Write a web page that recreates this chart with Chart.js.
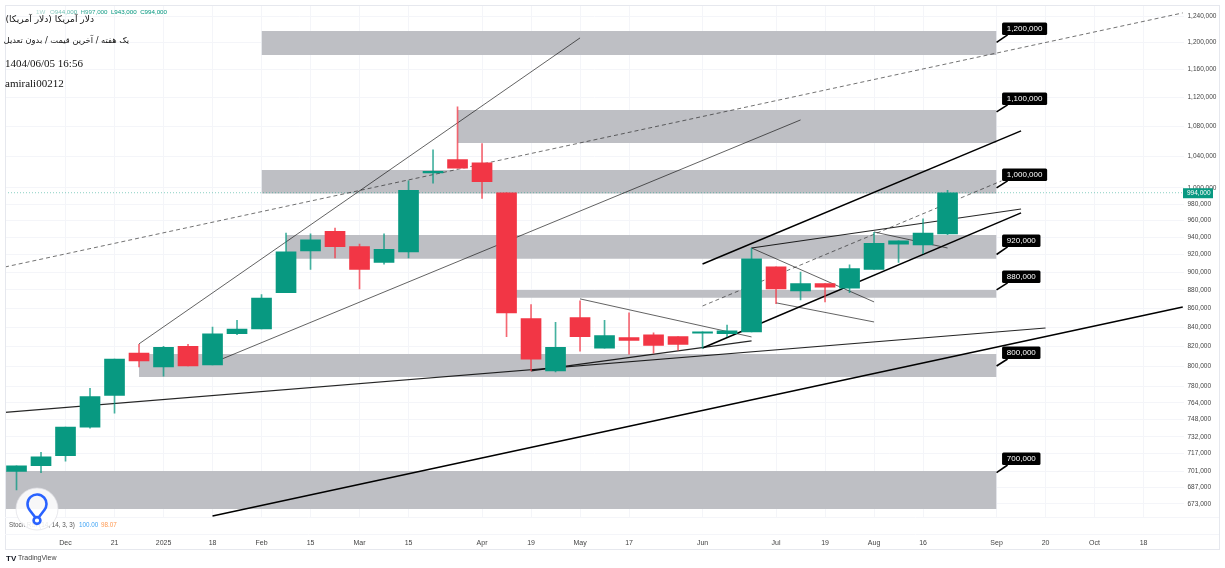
<!DOCTYPE html>
<html>
<head>
<meta charset="utf-8">
<style>
  html, body { margin: 0; padding: 0; background: #fff; overflow: hidden; }
  canvas { display: block; }
</style>
<script src="https://cdn.jsdelivr.net/npm/chart.js@4"></script>
</head>
<body>
<canvas id="chart" width="1225" height="568"></canvas>
<script>
// weekly candles, x = week number, prices
const opens  = [701000, 706000, 715000, 741000, 771000, 813000, 799000, 820000, 801000, 833000, 838000, 877000, 924000, 947000, 929000, 911000, 923000, 1019000, 1036000, 1032000, 994000, 849000, 795000, 850000, 818000, 829000, 832000, 830000, 833500, 833000, 835000, 906000, 879000, 887000, 882000, 903000, 932000, 931000, 944000];
const highs  = [706000, 718000, 741000, 778000, 807000, 822000, 820000, 822000, 840000, 847000, 875000, 945000, 944000, 951000, 932000, 944000, 1009000, 1049000, 1107000, 1057000, 994000, 864000, 845000, 868000, 847000, 855000, 834000, 830000, 835000, 842000, 927000, 906000, 900000, 887000, 908000, 946000, 936000, 962000, 997000];
const lows   = [685000, 700000, 710000, 740000, 754000, 799000, 790000, 800000, 801000, 832000, 838000, 877000, 903000, 916000, 881000, 909000, 916000, 1006000, 1025000, 987000, 830000, 795000, 794000, 815000, 818000, 812000, 813000, 816000, 818000, 830000, 835000, 865000, 869000, 867000, 877000, 903000, 911000, 921000, 943000];
const closes = [706000, 714000, 741000, 770000, 807000, 805000, 819000, 800000, 833000, 838000, 871000, 923000, 937000, 929000, 903000, 926000, 997000, 1021000, 1025000, 1008000, 855000, 807000, 819000, 830000, 831000, 826000, 821000, 822000, 835000, 836000, 915000, 881000, 887000, 883000, 904000, 933000, 936000, 945000, 994000];
const lastPrice = 994000;

const priceTicks = [1240000, 1200000, 1160000, 1120000, 1080000, 1040000, 1000000, 980000, 960000, 940000, 920000, 900000, 880000, 860000, 840000, 820000, 800000, 780000, 764000, 748000, 732000, 717000, 701000, 687000, 673000];
const weekTicks  = [2, 4, 6, 8, 10, 12, 14, 16, 19, 21, 23, 25, 28, 31, 33, 35, 37, 40, 42, 44, 46];
const weekLabels = ['Dec', '21', '2025', '18', 'Feb', '15', 'Mar', '15', 'Apr', '19', 'May', '17', 'Jun', 'Jul', '19', 'Aug', '16', 'Sep', '20', 'Oct', '18'];

// grey support / resistance boxes
const zoneStart  = [10, 18, 10, 11, 20, 5, -0.47];
const zoneEnd    = [40, 40, 40, 40, 40, 40, 40];
const zoneTop    = [1217400, 1102700, 1022800, 942800, 880000, 812200, 701400];
const zoneBottom = [1181400, 1058000, 993100, 915000, 871300, 789100, 668800];

// trend lines: [week, price, week, price]
const thinLines = [
  [5, 822500, 23, 1206800],
  [8, 803100, 32, 1088900],
  [23, 870200, 30, 829700],
  [30, 927500, 35, 866900],
  [31, 865900, 35, 845400],
  [35, 946300, 38, 927500]
];
const mediumLines = [
  [-0.47, 754800, 42, 839100],
  [30, 927500, 41, 973900],
  [21, 795100, 30, 825600]
];
const thickLines = [
  [28, 909100, 41, 1074100],
  [28, 818300, 41, 969200],
  [8, 663000, 47.6, 861500]
];
const dashedLines = [
  [-0.47, 905700, 47.6, 1245200],
  [28, 862500, 40.2, 1008800]
];

// black price callouts
const calloutLabels = ['1,200,000', '1,100,000', '1,000,000', '920,000', '880,000', '800,000', '700,000'];
const calloutFrom   = [1200000, 1100000, 1000000, 920000, 880000, 800000, 700000];
const calloutTip    = [1211300, 1109600, 1008800, 928700, 887800, 807100, 706700];
const calloutWeek = 40;
const calloutTipWeek = 40.45;

const GREEN = '#089981';
const RED = '#f23645';
const GRID = '#f4f5f9';
const xMin = -0.47;
const xMax = 47.63;

const datasets = [];

function lineDs(pts, color, width, dash, order) {
  return {
    type: 'line',
    data: pts,
    borderColor: color,
    borderWidth: width,
    borderDash: dash || [],
    pointRadius: 0,
    tension: 0,
    fill: false,
    order: order
  };
}

// boxes go in as two flat lines with the fill between them
zoneStart.forEach((s, i) => {
  datasets.push({
    type: 'line',
    data: [{ x: s, y: zoneTop[i] }, { x: zoneEnd[i], y: zoneTop[i] }],
    borderWidth: 0,
    pointRadius: 0,
    backgroundColor: 'rgb(190, 191, 196)',
    fill: '+1',
    order: 10
  });
  datasets.push({
    type: 'line',
    data: [{ x: s, y: zoneBottom[i] }, { x: zoneEnd[i], y: zoneBottom[i] }],
    borderWidth: 0,
    pointRadius: 0,
    fill: false,
    order: 10
  });
});

const toPts = l => [{ x: l[0], y: l[1] }, { x: l[2], y: l[3] }];
datasets.push(lineDs([{ x: xMin, y: lastPrice }, { x: xMax, y: lastPrice }], 'rgba(8, 153, 129, 0.6)', 0.8, [1, 2], 9));
thinLines.forEach(l => datasets.push(lineDs(toPts(l), 'rgba(10, 10, 10, 0.8)', 0.8, null, 8)));
mediumLines.forEach(l => datasets.push(lineDs(toPts(l), 'rgba(0, 0, 0, 0.85)', 1.1, null, 8)));
thickLines.forEach(l => datasets.push(lineDs(toPts(l), '#000', 1.5, null, 8)));
dashedLines.forEach(l => datasets.push(lineDs(toPts(l), 'rgba(20, 20, 20, 0.75)', 0.8, [4, 3], 8)));
calloutFrom.forEach((p, i) => {
  datasets.push(lineDs([{ x: calloutWeek, y: p }, { x: calloutTipWeek, y: calloutTip[i] }], '#000', 1.6, null, 1));
});

const candleColors = opens.map((o, i) => closes[i] >= o ? GREEN : RED);

// wicks then bodies
datasets.push({
  type: 'bar',
  data: opens.map((o, i) => ({ x: i, y: [lows[i], highs[i]] })),
  backgroundColor: candleColors.map(c => c + 'c0'),
  barThickness: 1,
  grouped: false,
  order: 3
});
datasets.push({
  type: 'bar',
  data: opens.map((o, i) => ({ x: i, y: [o, closes[i]] })),
  backgroundColor: candleColors,
  barThickness: 20,
  grouped: false,
  order: 2
});

const overlay = {
  id: 'overlay',
  afterDraw(chart) {
    const { ctx, scales } = chart;
    ctx.save();

    // frame and the empty pane under the price pane
    ctx.strokeStyle = '#e6e8ee';
    ctx.lineWidth = 1;
    ctx.strokeRect(5.5, 5.5, 1214, 544);
    ctx.strokeStyle = GRID;
    ctx.beginPath();
    ctx.moveTo(5, 517.5); ctx.lineTo(1219, 517.5);
    ctx.moveTo(5, 534.5); ctx.lineTo(1219, 534.5);
    ctx.stroke();

    // callout boxes sit on the tip of their pointer
    ctx.textBaseline = 'middle';
    calloutLabels.forEach((t, i) => {
      const px = scales.x.getPixelForValue(calloutWeek);
      const py = scales.y.getPixelForValue(calloutTip[i]);
      ctx.font = '8px "Liberation Sans"';
      const w = ctx.measureText(t).width + 9.5;
      ctx.fillStyle = '#000';
      ctx.beginPath();
      ctx.roundRect(px + 5.5, py - 12.5, w, 12.5, 1.5);
      ctx.fill();
      ctx.fillStyle = '#fff';
      ctx.textAlign = 'left';
      ctx.fillText(t, px + 10.3, py - 6);
    });

    // last price tag
    const tagY = scales.y.getPixelForValue(lastPrice);
    ctx.fillStyle = GREEN;
    ctx.fillRect(1183, tagY - 4.5, 30, 10);
    ctx.fillStyle = '#fff';
    ctx.font = '6.5px "Liberation Sans"';
    ctx.fillText(lastPrice.toLocaleString('en-US'), 1187, tagY + 0.5);

    // header lines
    const fade = ctx.createLinearGradient(10, 0, 110, 0);
    fade.addColorStop(0, '#f2f2f2');
    fade.addColorStop(1, GREEN);
    ctx.fillStyle = fade;
    ctx.font = '6.2px "Liberation Sans"';
    ctx.fillText('1W', 36, 12.5);
    ctx.fillText('O944,000  H997,000  L943,000  C994,000', 50, 12.5);

    ctx.fillStyle = '#111';
    ctx.direction = 'rtl';
    ctx.textAlign = 'right';
    ctx.font = '9.1px "DejaVu Sans"';
    ctx.fillText('دلار آمریکا (دلار آمریکا)', 94, 20);
    ctx.font = '8.3px "DejaVu Sans"';
    ctx.fillText('یک هفته / آخرین قیمت / بدون تعدیل', 129, 41);
    ctx.direction = 'ltr';
    ctx.textAlign = 'left';
    ctx.font = '11px "Liberation Serif"';
    ctx.fillText('1404/06/05 16:56', 5, 64);
    ctx.fillText('amirali00212', 5, 84);

    // indicator legend
    ctx.font = '6.3px "Liberation Sans"';
    ctx.fillStyle = '#555';
    ctx.fillText('Stoch RSI (14, 14, 3, 3)', 9, 525);
    ctx.fillStyle = '#42a5f5';
    ctx.fillText('100.00', 79, 525);
    ctx.fillStyle = '#ff9850';
    ctx.fillText('98.07', 101, 525);

    // round watermark badge
    ctx.fillStyle = 'rgba(255, 255, 255, 0.88)';
    ctx.strokeStyle = 'rgba(225, 225, 230, 0.9)';
    ctx.lineWidth = 0.8;
    ctx.beginPath();
    ctx.arc(37, 509, 21, 0, Math.PI * 2);
    ctx.fill();
    ctx.stroke();
    ctx.strokeStyle = '#2962ff';
    ctx.lineWidth = 2.6;
    ctx.beginPath();
    ctx.moveTo(35, 517);
    ctx.lineTo(30, 510.5);
    ctx.arc(37, 504, 9.5, Math.PI * 0.77, Math.PI * 0.23);
    ctx.lineTo(39, 517);
    ctx.stroke();
    ctx.beginPath();
    ctx.arc(37, 520.5, 3.4, 0, Math.PI * 2);
    ctx.stroke();

    // footer mark
    ctx.fillStyle = '#131722';
    ctx.font = 'bold 8px "Liberation Sans"';
    ctx.fillText('TV', 6, 558.5);
    ctx.fillStyle = '#444';
    ctx.font = '7px "Liberation Sans"';
    ctx.fillText('TradingView', 18, 558.5);

    ctx.restore();
  }
};

new Chart(document.getElementById('chart'), {
  type: 'bar',
  data: { datasets: datasets },
  plugins: [overlay],
  options: {
    responsive: false,
    animation: false,
    layout: { padding: { left: 5, top: 5, right: 0, bottom: 0 } },
    plugins: { legend: { display: false }, tooltip: { enabled: false } },
    scales: {
      x: {
        type: 'linear',
        min: xMin,
        max: xMax,
        offset: false,
        border: { display: false },
        grid: { color: GRID, offset: false, drawTicks: false },
        afterBuildTicks: s => { s.ticks = weekTicks.map(v => ({ value: v })); },
        afterFit: s => { s.height = 51; s.paddingLeft = 0; s.paddingRight = 0; },
        ticks: {
          autoSkip: false,
          maxRotation: 0,
          padding: 22,
          color: '#444',
          font: { family: 'Liberation Sans', size: 7 },
          callback: v => weekLabels[weekTicks.indexOf(v)]
        }
      },
      y: {
        type: 'logarithmic',
        position: 'right',
        min: 662100,
        max: 1257600,
        border: { display: false },
        grid: { color: GRID, drawTicks: false },
        afterBuildTicks: s => { s.ticks = priceTicks.map(v => ({ value: v })); },
        afterFit: s => { s.width = 41.5; s.paddingTop = 0; s.paddingBottom = 0; },
        ticks: {
          autoSkip: false,
          padding: 4,
          color: '#444',
          font: { family: 'Liberation Sans', size: 6.5 },
          callback: v => v.toLocaleString('en-US')
        }
      }
    }
  }
});
</script>
</body>
</html>
